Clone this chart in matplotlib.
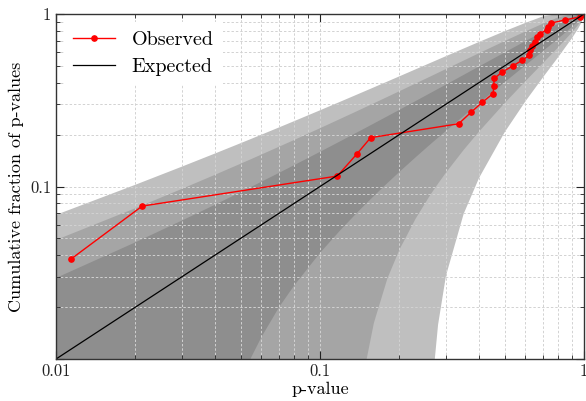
import matplotlib
matplotlib.use("Agg")
from matplotlib import pyplot as plt
from matplotlib.ticker import FixedLocator, FixedFormatter, LogLocator, NullFormatter

# observed p-values and their cumulative fraction
p_obs = [0.0114, 0.0212, 0.1163, 0.1377, 0.1556, 0.335, 0.373, 0.412, 0.453,
         0.455, 0.457, 0.491, 0.537, 0.582, 0.621, 0.624, 0.636, 0.652, 0.666,
         0.679, 0.722, 0.732, 0.750, 0.844, 0.966, 0.995]
frac_obs = [0.038, 0.077, 0.115, 0.154, 0.192, 0.231, 0.269, 0.308, 0.346,
            0.385, 0.423, 0.462, 0.500, 0.538, 0.577, 0.615, 0.654, 0.692,
            0.731, 0.769, 0.808, 0.846, 0.885, 0.923, 0.962, 1.0]

expected_x = [0.01, 1.0]
expected_y = [0.01, 1.0]

# confidence bands (1, 2, 3 sigma)
band_x = [0.01, 0.02, 0.03, 0.04, 0.05, 0.055, 0.06, 0.07, 0.08, 0.1, 0.12,
          0.14, 0.15, 0.16, 0.18, 0.2, 0.23, 0.26, 0.27, 0.28, 0.3, 0.35, 0.4,
          0.5, 0.6, 0.7, 0.8, 0.9, 0.95, 0.98, 1.0]
upper_1s = [0.0295, 0.0475, 0.0635, 0.0784, 0.0927, 0.0997, 0.1066, 0.1200,
            0.1332, 0.1588, 0.1837, 0.2081, 0.2200, 0.2319, 0.2553, 0.2784,
            0.3125, 0.3460, 0.3571, 0.3681, 0.3899, 0.4435, 0.4961, 0.5981,
            0.6961, 0.7899, 0.8784, 0.9588, 0.9927, 1.0, 1.0]
upper_2s = [0.0490, 0.0749, 0.0969, 0.1169, 0.1355, 0.1444, 0.1532, 0.1701,
            0.1864, 0.2177, 0.2475, 0.2761, 0.2901, 0.3038, 0.3307, 0.3569,
            0.3951, 0.4320, 0.4441, 0.4561, 0.4797, 0.5371, 0.5922, 0.6961,
            0.7922, 0.8797, 0.9569, 1.0, 1.0, 1.0, 1.0]
upper_3s = [0.0685, 0.1024, 0.1304, 0.1553, 0.1782, 0.1891, 0.1997, 0.2201,
            0.2396, 0.2765, 0.3112, 0.3442, 0.3601, 0.3757, 0.4060, 0.4353,
            0.4776, 0.5181, 0.5312, 0.5442, 0.5696, 0.6306, 0.6882, 0.7942,
            0.8882, 0.9696, 1.0, 1.0, 1.0, 1.0, 1.0]
lower_1s = [1e-4, 1e-4, 1e-4, 0.0016, 0.0073, 0.0103, 0.0134, 0.0200, 0.0268,
            0.0412, 0.0563, 0.0720, 0.0800, 0.0881, 0.1047, 0.1216, 0.1475,
            0.1740, 0.1829, 0.1919, 0.2101, 0.2565, 0.3039, 0.4019, 0.5039,
            0.6101, 0.7216, 0.8412, 0.9073, 0.9525, 1.0]
lower_2s = [1e-4, 1e-4, 1e-4, 1e-4, 1e-4, 1e-4, 1e-4, 1e-4, 1e-4, 1e-4, 1e-4,
            0.0039, 0.0099, 0.0162, 0.0293, 0.0431, 0.0649, 0.0880, 0.0959,
            0.1039, 0.1203, 0.1629, 0.2078, 0.3039, 0.4078, 0.5203, 0.6431,
            0.7823, 0.8645, 0.9251, 1.0]
lower_3s = [1e-4, 1e-4, 1e-4, 1e-4, 1e-4, 1e-4, 1e-4, 1e-4, 1e-4, 1e-4, 1e-4,
            1e-4, 1e-4, 1e-4, 1e-4, 1e-4, 1e-4, 0.0019, 0.0088, 0.0158, 0.0304,
            0.0694, 0.1118, 0.2058, 0.3118, 0.4304, 0.5647, 0.7235, 0.8218,
            0.8976, 1.0]

plt.rcParams["font.family"] = "cmr10"
plt.rcParams["axes.formatter.use_mathtext"] = True
plt.rcParams["mathtext.fontset"] = "cm"

fig = plt.figure(figsize=(5.86, 4.01), dpi=100)
ax = fig.add_axes([0.0956, 0.1047, 0.9010, 0.8604])

ax.fill_between(band_x, lower_3s, upper_3s, color="#bfbfbf", lw=0)
ax.fill_between(band_x, lower_2s, upper_2s, color="#a5a5a5", lw=0)
ax.fill_between(band_x, lower_1s, upper_1s, color="#8e8e8e", lw=0)

ax.plot(p_obs, frac_obs, color="red", lw=1.0, marker="o", markersize=3.8,
        label="Observed")
ax.plot(expected_x, expected_y, color="black", lw=0.9, label="Expected")

ax.set_xscale("log")
ax.set_yscale("log")
ax.set_xlim(0.01, 1)
ax.set_ylim(0.01, 1)

ax.xaxis.set_major_locator(FixedLocator([0.01, 0.1, 1]))
ax.xaxis.set_major_formatter(FixedFormatter(["0.01", "0.1", "1"]))
ax.yaxis.set_major_locator(FixedLocator([0.01, 0.1, 1]))
ax.yaxis.set_major_formatter(FixedFormatter(["", "0.1", "1"]))
for axis in (ax.xaxis, ax.yaxis):
    axis.set_minor_locator(LogLocator(base=10, subs=range(2, 10), numticks=10))
    axis.set_minor_formatter(NullFormatter())

ax.tick_params(which="both", direction="in", top=True, right=True,
               labelsize=12, colors="#222222")
ax.tick_params(which="major", length=6, width=0.8)
ax.tick_params(which="minor", length=3, width=0.6)
ax.grid(True, which="both", color="#d2d2d2", lw=0.7, linestyle=(0, (2.5, 2)))

for s in ax.spines.values():
    s.set_color("#333333")
    s.set_linewidth(1.0)

ax.set_xlabel("p-value", fontsize=13, labelpad=2)
ax.set_ylabel("Cumulative fraction of p-values", fontsize=13, labelpad=4)

leg = ax.legend(loc="upper left", fontsize=14.5, numpoints=1, fancybox=False,
                framealpha=1.0, edgecolor="none", handlelength=2.1,
                handletextpad=0.8, labelspacing=0.45, borderpad=0.45,
                borderaxespad=0.4)

plt.savefig("out.png", dpi=100)
